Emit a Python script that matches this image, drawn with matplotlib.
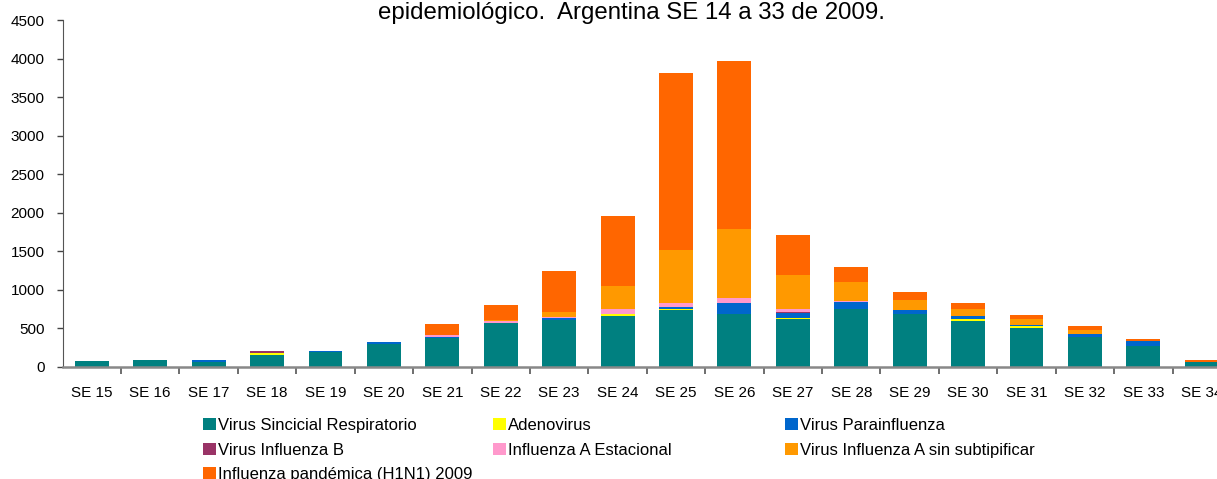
import matplotlib
matplotlib.use("Agg")
import matplotlib.pyplot as plt
import numpy as np
from matplotlib.patches import Patch

plt.rcParams['font.family'] = ['Liberation Sans', 'DejaVu Sans']

weeks = ['SE 15', 'SE 16', 'SE 17', 'SE 18', 'SE 19', 'SE 20', 'SE 21', 'SE 22', 'SE 23', 'SE 24',
         'SE 25', 'SE 26', 'SE 27', 'SE 28', 'SE 29', 'SE 30', 'SE 31', 'SE 32', 'SE 33', 'SE 34']
vsr      = [80, 95, 70, 155, 198, 302, 370, 567, 615, 661, 739, 687, 623, 752, 687, 597, 506, 389, 270, 65]
adeno    = [0, 0, 0, 25, 0, 0, 0, 0, 0, 26, 13, 0, 17, 0, 0, 26, 26, 0, 0, 0]
parainf  = [0, 0, 25, 0, 13, 26, 17, 10, 15, 0, 26, 138, 56, 87, 52, 39, 13, 39, 65, 0]
flu_b    = [0, 0, 0, 30, 0, 0, 0, 0, 0, 0, 0, 0, 17, 0, 0, 0, 0, 0, 0, 0]
flu_a_est = [0, 0, 0, 0, 0, 0, 22, 20, 20, 65, 52, 69, 35, 13, 0, 0, 0, 0, 0, 0]
flu_a_sin = [0, 0, 0, 0, 0, 0, 0, 15, 70, 298, 687, 895, 445, 251, 130, 91, 78, 52, 0, 0]
h1n1     = [0, 0, 0, 0, 0, 0, 147, 192, 530, 908, 2303, 2179, 519, 195, 104, 78, 52, 52, 26, 26]

series_names = ['Virus Sincicial Respiratorio', 'Adenovirus', 'Virus Parainfluenza',
                'Virus Influenza B', 'Influenza A Estacional', 'Virus Influenza A sin subtipificar',
                'Influenza pandémica (H1N1) 2009']
series_vals = [vsr, adeno, parainf, flu_b, flu_a_est, flu_a_sin, h1n1]
colors = ['#008080', '#FFFF00', '#0066CC', '#993366', '#FF99CC', '#FF9900', '#FF6600']

title = 'epidemiológico.  Argentina SE 14 a 33 de 2009.'

W, H = 1217, 479
fig = plt.figure(figsize=(W / 100, H / 100), dpi=100)
ax = fig.add_axes([62.6 / W, 1 - 367 / H, (1231 - 62.6) / W, (367 - 20.3) / H])

x = np.arange(len(weeks))
bottom = np.zeros(len(weeks))
for name, vals, c in zip(series_names, series_vals, colors):
    v = np.array(vals, dtype=float)
    ax.bar(x, v, bottom=bottom, width=0.58, color=c, label=name, linewidth=0)
    bottom += v

ax.set_xlim(-0.5, len(weeks) - 0.5)
ax.set_ylim(0, 4500)
ax.set_yticks(np.arange(0, 4501, 500))
ax.set_xticks(x)
ax.set_xticklabels(weeks)
ax.set_xticks(np.arange(0.5, len(weeks) - 0.5, 1), minor=True)
ax.tick_params(axis='x', which='major', length=0, pad=14, labelsize=11)
ax.tick_params(axis='x', which='minor', length=5, width=1.2, color='#555555', direction='out')
ax.tick_params(axis='y', length=4, width=1, color='#444444', pad=9, labelsize=11)
for s in ['top', 'right']:
    ax.spines[s].set_visible(False)
ax.spines['left'].set_color('#555555')
ax.spines['bottom'].set_color('#888888')
ax.spines['bottom'].set_linewidth(1.8)

fig.text(631 / W, 1 - 19 / H, title, ha='center', va='baseline', fontsize=17.3)

handles = [Patch(facecolor=c, edgecolor='none') for c in colors]
cols = [[0, 3, 6], [1, 4], [2, 5]]
col_x = [203, 493, 785]
for cx, idx in zip(col_x, cols):
    fig.legend([handles[i] for i in idx], [series_names[i] for i in idx],
               loc='upper left', bbox_to_anchor=(cx / W, 1 - 418 / H),
               frameon=False, fontsize=12, handlelength=0.75, handleheight=0.76,
               handletextpad=0.15, labelspacing=0.58, borderpad=0, borderaxespad=0)

fig.savefig('out.png', dpi=100)
